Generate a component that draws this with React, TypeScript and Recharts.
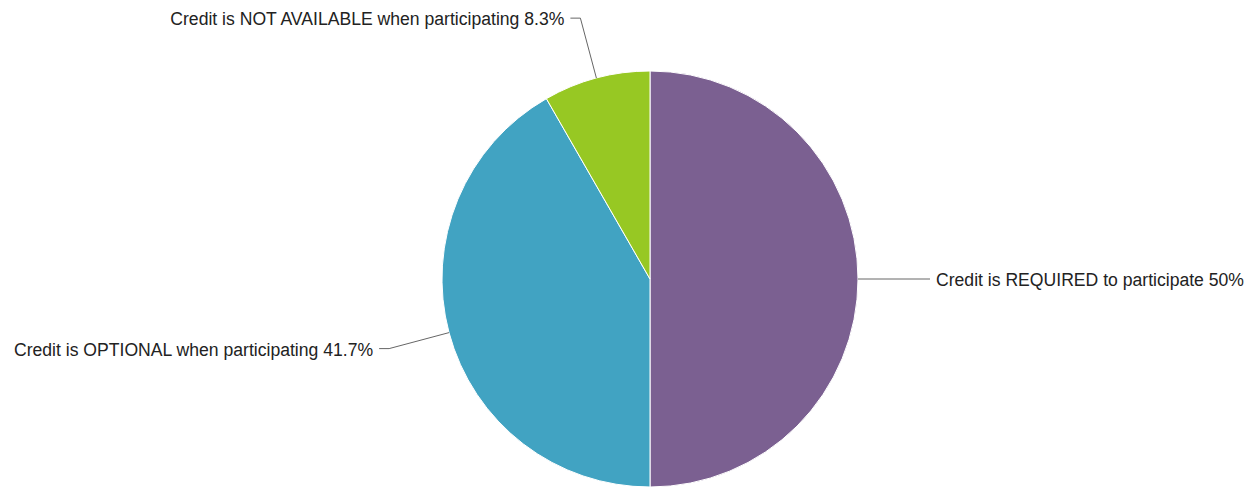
import React from "react";
import { PieChart, Pie, Cell } from "recharts";

const categories = [
  "Credit is REQUIRED to participate",
  "Credit is OPTIONAL when participating",
  "Credit is NOT AVAILABLE when participating",
];
const shares = [50, 41.7, 8.3];
const colors = ["#7b6091", "#41a3c2", "#97c823"];

const data = categories.map((name, i) => ({ name, value: shares[i] }));

const RAD = Math.PI / 180;

const renderLabel = (props: any) => {
  const { cx, cy, midAngle, outerRadius, payload } = props;
  const cos = Math.cos(-midAngle * RAD);
  const sin = Math.sin(-midAngle * RAD);
  const sx = cx + outerRadius * cos;
  const sy = cy + outerRadius * sin;
  const er = outerRadius + 62;
  const mx = cx + er * cos;
  const my = cy + er * sin;
  const dir = cos >= 0 ? 1 : -1;
  const ex = mx + dir * 10;
  const ey = my;
  return (
    <g>
      <polyline
        points={`${sx},${sy} ${mx},${my} ${ex},${ey}`}
        fill="none"
        stroke="#666"
        strokeWidth={1}
      />
      <text
        x={ex + dir * 6}
        y={ey + 1}
        textAnchor={dir > 0 ? "start" : "end"}
        dominantBaseline="central"
        fill="#222"
        fontSize={17.6}
        fontFamily="'Liberation Sans', Arial, sans-serif"
      >
        {`${payload.name} ${payload.value}%`}
      </text>
    </g>
  );
};

export default function App() {
  return (
    <div style={{ position: "absolute", left: 0, top: 0, background: "#fff" }}>
      <PieChart width={1257} height={487} margin={{ top: 0, right: 0, bottom: 0, left: 0 }}>
        <Pie
          data={data}
          dataKey="value"
          nameKey="name"
          cx={650}
          cy={279}
          outerRadius={208}
          startAngle={90}
          endAngle={-270}
          stroke="#fff"
          strokeWidth={1}
          label={renderLabel}
          labelLine={false}
          isAnimationActive={false}
        >
          {data.map((d, i) => (
            <Cell key={d.name} fill={colors[i]} />
          ))}
        </Pie>
      </PieChart>
    </div>
  );
}
